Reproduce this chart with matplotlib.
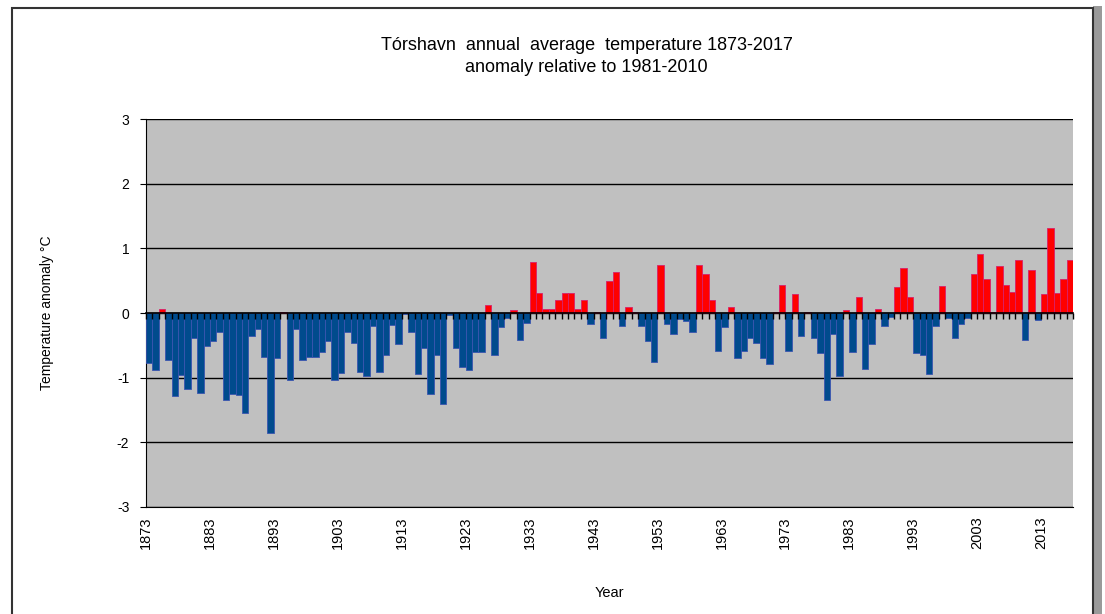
import matplotlib.pyplot as plt
from matplotlib.patches import Rectangle

plt.rcParams['font.family'] = ['Liberation Sans', 'DejaVu Sans']
plt.rcParams['axes.unicode_minus'] = False

years = list(range(1873, 2018))
anomaly = [
    -0.77, -0.88, 0.06, -0.73, -1.29, -0.96, -1.18, -0.38, -1.23, -0.51,   # 1873-1882
    -0.43, -0.29, -1.35, -1.25, -1.27, -1.55, -0.35, -0.24, -0.68, -1.85,  # 1883-1892
    -0.69, 0.02, -1.04, -0.25, -0.72, -0.68, -0.68, -0.61, -0.43, -1.03,   # 1893-1902
    -0.93, -0.29, -0.47, -0.91, -0.97, -0.20, -0.91, -0.65, -0.19, -0.48,  # 1903-1912
    -0.02, -0.29, -0.95, -0.54, -1.25, -0.65, -1.41, -0.03, -0.54, -0.83,  # 1913-1922
    -0.88, -0.61, -0.61, 0.12, -0.65, -0.21, -0.07, 0.04, -0.42, -0.15,    # 1923-1932
    0.79, 0.31, 0.06, 0.06, 0.20, 0.31, 0.31, 0.06, 0.20, -0.17,           # 1933-1942
    0.02, -0.38, 0.49, 0.63, -0.20, 0.10, 0.02, -0.20, -0.43, -0.75,       # 1943-1952
    0.75, -0.17, -0.33, -0.09, -0.13, -0.30, 0.75, 0.61, 0.20, -0.58,      # 1953-1962
    -0.21, 0.10, -0.69, -0.58, -0.38, -0.47, -0.69, -0.79, 0.02, 0.43,     # 1963-1972
    -0.58, 0.29, -0.35, 0.02, -0.38, -0.62, -1.35, -0.33, -0.97, 0.04,     # 1973-1982
    -0.61, 0.24, -0.86, -0.48, 0.06, -0.20, -0.06, 0.40, 0.70, 0.24,       # 1983-1992
    -0.62, -0.65, -0.95, -0.20, 0.42, -0.07, -0.38, -0.17, -0.08, 0.61,    # 1993-2002
    0.91, 0.52, 0.02, 0.73, 0.43, 0.32, 0.82, -0.42, 0.66, -0.11,          # 2003-2012
    0.29, 1.32, 0.31, 0.52, 0.82,                                          # 2013-2017
]
tick_years = list(range(1873, 2018, 10))

fig = plt.figure(figsize=(11.05, 6.14), dpi=100)
fig.patch.set_facecolor('white')

# chart frame with a little shadow on the right
fig.patches.append(Rectangle((1093 / 1105, -0.01), 0.008, 1.0, transform=fig.transFigure,
                             facecolor='#9a9a9a', edgecolor='none', zorder=-2))
fig.patches.append(Rectangle((12 / 1105, -0.01), 1081 / 1105, 1 - 8 / 614 + 0.01,
                             transform=fig.transFigure, facecolor='none',
                             edgecolor='#333333', linewidth=1.5, zorder=-1))

ax = fig.add_axes([146 / 1105, 1 - 507 / 614, 927 / 1105, 388 / 614])
ax.set_facecolor('#c0c0c0')

pos = list(range(len(years)))
colors = ['#ff0000' if v > 0 else '#004b8d' for v in anomaly]
edges = ['#d8206a' if v > 0 else '#3a55b0' for v in anomaly]
ax.bar(pos, anomaly, width=1.0, align='edge', color=colors, edgecolor=edges,
       linewidth=0.6, zorder=3)

ax.set_xlim(0, len(years))
ax.set_ylim(-3, 3)
ax.set_yticks(range(-3, 4))
ax.yaxis.grid(True, color='black', linewidth=1.0, zorder=1)
ax.set_axisbelow(True)

ax.set_xticks([years.index(y) for y in tick_years])
ax.set_xticklabels([str(y) for y in tick_years], rotation=90, fontsize=10.5)
ax.tick_params(axis='x', length=0, pad=7)
ax.tick_params(axis='y', direction='out', length=4, labelsize=10, pad=8)

for s in ['top', 'right']:
    ax.spines[s].set_visible(False)
ax.spines['left'].set_color('black')
ax.spines['bottom'].set_color('black')

# category axis at zero with a tick at every year boundary
sec = ax.secondary_xaxis(0.5)
sec.set_zorder(5)
sec.set_xticks(pos + [len(years)])
sec.set_xticklabels([])
sec.tick_params(axis='x', direction='in', length=4, width=1, color='black',
                labelbottom=False, labeltop=False)
for s in sec.spines.values():
    s.set_linewidth(1.2)
    s.set_color('black')

ax.set_xlabel('Year', fontsize=10.5, labelpad=26)
ax.set_ylabel('Temperature anomaly \u00b0C', fontsize=10, labelpad=45)

fig.text(0.531, 1 - 45 / 614, 'T\u00f3rshavn  annual  average  temperature 1873-2017',
         ha='center', va='center', fontsize=13)
fig.text(0.531, 1 - 68 / 614, 'anomaly relative to 1981-2010',
         ha='center', va='center', fontsize=13)

fig.savefig('out.png', dpi=100)
